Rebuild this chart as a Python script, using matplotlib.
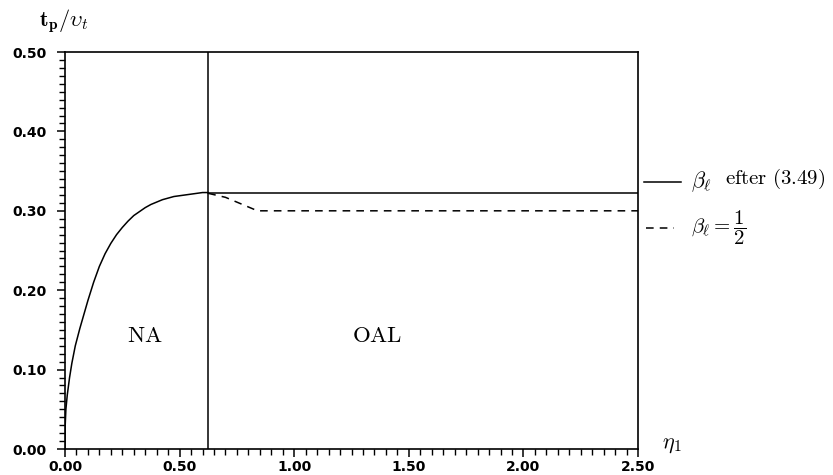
import numpy as np
import matplotlib
matplotlib.use('Agg')
from matplotlib import pyplot as plt
from matplotlib.ticker import MultipleLocator, FormatStrFormatter

# NA branch, rising up to the boundary
eta_na = [0.0, 0.001, 0.004, 0.01, 0.02, 0.03, 0.045, 0.065, 0.085, 0.10,
          0.125, 0.15, 0.175, 0.20, 0.225, 0.25, 0.275, 0.30, 0.325, 0.35,
          0.375, 0.40, 0.425, 0.45, 0.475, 0.50, 0.525, 0.55, 0.575, 0.60, 0.625]
tp_na = [0.0, 0.030, 0.050, 0.068, 0.090, 0.108, 0.130, 0.152, 0.172, 0.187,
         0.210, 0.230, 0.246, 0.259, 0.270, 0.279, 0.287, 0.294, 0.299, 0.304,
         0.308, 0.311, 0.314, 0.316, 0.318, 0.319, 0.320, 0.321, 0.322, 0.323, 0.323]

# OAL branch, beta_l after (3.49)
eta_oal = [0.625, 2.50]
tp_oal = [0.323, 0.323]

# OAL branch, beta_l = 1/2
eta_half = [0.625, 0.70, 0.84, 2.50]
tp_half = [0.322, 0.317, 0.300, 0.300]

eta_boundary = 0.625

plt.rcParams['mathtext.fontset'] = 'cm'
dash = (0, (5, 4))

fig = plt.figure(figsize=(8.33, 4.75), dpi=100)
ax = fig.add_axes([0.078, 0.0547, 0.688, 0.8358])

ax.plot(eta_na, tp_na, color='black', lw=1.1)
ax.plot(eta_oal, tp_oal, color='black', lw=1.1)
ax.plot(eta_half, tp_half, color='black', lw=1.1, linestyle=dash)
ax.axvline(eta_boundary, color='black', lw=1.1)

ax.set_xlim(0, 2.5)
ax.set_ylim(0, 0.5)
ax.xaxis.set_major_locator(MultipleLocator(0.5))
ax.xaxis.set_minor_locator(MultipleLocator(0.05))
ax.yaxis.set_major_locator(MultipleLocator(0.1))
ax.yaxis.set_minor_locator(MultipleLocator(0.01))
ax.xaxis.set_major_formatter(FormatStrFormatter('%.2f'))
ax.yaxis.set_major_formatter(FormatStrFormatter('%.2f'))
ax.tick_params(which='major', length=6, width=1.1, labelsize=10, direction='out')
ax.tick_params(which='minor', length=4, width=1.0, direction='out')
ax.tick_params(axis='x', pad=2)
ax.tick_params(axis='y', pad=7)
for lab in ax.get_xticklabels() + ax.get_yticklabels():
    lab.set_fontweight('bold')
for s in ax.spines.values():
    s.set_linewidth(1.2)

ax.text(0.35, 0.143, r'$\mathrm{NA}$', fontsize=16.5, ha='center', va='center')
ax.text(1.36, 0.143, r'$\mathrm{OAL}$', fontsize=16.5, ha='center', va='center')

# curve key to the right of the frame
ax.plot([1.010, 1.075], [0.673, 0.673], color='black', lw=1.1,
        transform=ax.transAxes, clip_on=False)
ax.text(1.093, 0.673, r'$\beta_\ell$', fontsize=16, transform=ax.transAxes,
        ha='left', va='center')
ax.text(1.152, 0.680, r'$\mathrm{efter\ (3.49)}$', fontsize=15,
        transform=ax.transAxes, ha='left', va='center')
ax.plot([1.014, 1.063], [0.557, 0.557], color='black', lw=1.1,
        linestyle=dash, transform=ax.transAxes, clip_on=False)
ax.text(1.093, 0.557, r'$\beta_\ell = \dfrac{1}{2}$', fontsize=15,
        transform=ax.transAxes, ha='left', va='center')

fig.text(0.077, 0.954, r'$\mathbf{t_p}/\upsilon_t$', fontsize=16,
         ha='center', va='center')
ax.text(1.059, 0.01, r'$\eta_1$', fontsize=16, transform=ax.transAxes,
        ha='center', va='center')

fig.savefig('out.png', dpi=100)
